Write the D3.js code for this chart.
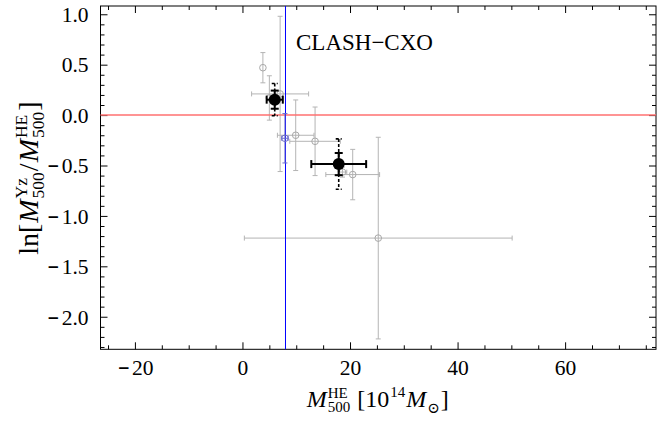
<!DOCTYPE html>
<html>
<head>
<meta charset="utf-8">
<script src="https://cdn.jsdelivr.net/npm/d3@7"></script>
<style>
body { margin: 0; background: #fff; }
text { font-family: "Liberation Serif", "DejaVu Serif", serif; fill: #000; }
</style>
</head>
<body>
<script>
// individual clusters (gray open circles)
var grayX    = [3.8, 7.0, 5.0, 9.9, 13.5, 20.5, 25.25, 18.6];
var grayY    = [0.47, 0.21, 0.17, -0.20, -0.26, -0.59, -1.22, -0.565];
var grayXErr = [0, 5.3, 0, 3.4, 4.7, 5.0, 24.9, 0.8];
var grayYErr = [0.15, 0.77, 0.22, 0.35, 0.34, 0.25, 1.0, 0.05];

// blue point
var blueX = [7.9];
var blueY = [-0.23];
var blueXErr = [0.6];
var blueYErr = [0.245];

// binned means (black filled), stat + sys errors
var blackX    = [6.0, 17.9];
var blackY    = [0.153, -0.486];
var blackXErr = [1.5, 5.1];
var blackYErr = [0.09, 0.11];
var blackYSys = [0.16, 0.25];

var xTicks = [-20, 0, 20, 40, 60];
var yTicks = [1.0, 0.5, 0.0, -0.5, -1.0, -1.5, -2.0];
var pivotX = 8;
var refY = 0;

var w = 670, h = 423;
var pL = 100.5, pR = 656, pT = 6, pB = 349.3;

var x = d3.scaleLinear().domain([-26.4, 76.9]).range([pL, pR]);
var y = d3.scaleLinear().domain([-2.323, 1.082]).range([pB, pT]);

var svg = d3.select("body").append("svg")
            .attr("width", w)
            .attr("height", h);

var xMinor = d3.range(-25, 77, 5).filter(function(d) { return d % 20 !== 0; });
var yMinor = d3.range(-23, 11, 1).map(function(d) { return d / 10; })
               .filter(function(d) { return Math.abs(Math.round(d * 10) % 5) !== 0; });

function addAxis(axisFn, scale, pos, major, minor, labels) {
    var g = svg.append("g").attr("transform", pos);
    g.call(axisFn(scale).tickValues(minor).tickSize(-4).tickSizeOuter(0).tickFormat(""));
    var g2 = svg.append("g").attr("transform", pos);
    var a = axisFn(scale).tickValues(major).tickSize(-7).tickSizeOuter(0).tickPadding(9);
    if (labels) a.tickFormat(labels); else a.tickFormat("");
    g2.call(a);
    [g, g2].forEach(function(s) {
        s.select(".domain").remove();
        s.selectAll("line").attr("stroke", "#000").attr("stroke-width", 1);
        s.selectAll("text").attr("font-size", 21.5).attr("font-family", "Liberation Serif");
    });
    return g2;
}

// thick minus as its own tspan, like the original's tick labels
function boldMinus(sel) {
    sel.selectAll("text").each(function(d) {
        if (d >= 0) return;
        var t = d3.select(this), s = t.text().replace("\u2212", "");
        t.text("");
        t.append("tspan")
         .attr("font-family", "DejaVu Sans")
         .attr("font-weight", "bold")
         .attr("font-size", 15)
         .attr("baseline-shift", "2px")
         .text("\u2212");
        t.append("tspan").attr("dx", 2).text(s);
    });
}

var bx = addAxis(d3.axisBottom, x, "translate(0," + pB + ")", xTicks, xMinor, d3.format("d"));
bx.selectAll("text").attr("dy", "0.8em");
boldMinus(bx);
addAxis(d3.axisTop, x, "translate(0," + pT + ")", xTicks, xMinor, null);
var ly = addAxis(d3.axisLeft, y, "translate(" + pL + ",0)", yTicks, yMinor, d3.format(".1f"));
ly.selectAll("text").attr("x", -12).attr("dy", "0.34em");
boldMinus(ly);
addAxis(d3.axisRight, y, "translate(" + pR + ",0)", yTicks, yMinor, null);

svg.append("rect")
   .attr("x", pL).attr("y", pT)
   .attr("width", pR - pL).attr("height", pB - pT)
   .attr("fill", "none").attr("stroke", "#000").attr("stroke-width", 1);

// error bars helper
function errBars(xs, ys, xe, ye, color, sw, cap, dash) {
    var g = svg.append("g").attr("stroke", color).attr("stroke-width", sw).attr("fill", "none");
    if (dash) g.attr("stroke-dasharray", dash);
    xs.forEach(function(d, i) {
        var cx = x(d), cy = y(ys[i]);
        if (ye && ye[i] > 0) {
            var y1 = y(ys[i] + ye[i]), y2 = y(ys[i] - ye[i]);
            g.append("line").attr("x1", cx).attr("x2", cx).attr("y1", y1).attr("y2", y2);
            g.append("line").attr("x1", cx - cap).attr("x2", cx + cap).attr("y1", y1).attr("y2", y1);
            g.append("line").attr("x1", cx - cap).attr("x2", cx + cap).attr("y1", y2).attr("y2", y2);
        }
        if (xe && xe[i] > 0) {
            var x1 = x(d - xe[i]), x2 = x(d + xe[i]);
            g.append("line").attr("x1", x1).attr("x2", x2).attr("y1", cy).attr("y2", cy);
            g.append("line").attr("x1", x1).attr("x2", x1).attr("y1", cy - cap).attr("y2", cy + cap);
            g.append("line").attr("x1", x2).attr("x2", x2).attr("y1", cy - cap).attr("y2", cy + cap);
        }
    });
}

errBars(grayX, grayY, grayXErr, grayYErr, "#b4b4b4", 1, 2.5);
svg.append("g").selectAll("circle")
   .data(grayX)
   .enter()
   .append("circle")
   .attr("cx", function(d) { return x(d); })
   .attr("cy", function(d, i) { return y(grayY[i]); })
   .attr("r", 3.3)
   .attr("fill", "none")
   .attr("stroke", "#a8a8a8")
   .attr("stroke-width", 1);

// reference lines
svg.append("line")
   .attr("x1", pL).attr("x2", pR)
   .attr("y1", y(refY)).attr("y2", y(refY))
   .attr("stroke", "#ff7070").attr("stroke-width", 1.5);
svg.append("line")
   .attr("x1", x(pivotX)).attr("x2", x(pivotX))
   .attr("y1", pT).attr("y2", pB)
   .attr("stroke", "#0000ff").attr("stroke-width", 1);

errBars(blueX, blueY, blueXErr, blueYErr, "#6a6ad0", 1, 2.5);
svg.append("g").selectAll("circle")
   .data(blueX)
   .enter()
   .append("circle")
   .attr("cx", function(d) { return x(d); })
   .attr("cy", function(d, i) { return y(blueY[i]); })
   .attr("r", 3.3)
   .attr("fill", "none")
   .attr("stroke", "#7070c8");

errBars(blackX, blackY, null, blackYSys, "#000", 1.6, 3, "3,2");
errBars(blackX, blackY, blackXErr, blackYErr, "#000", 2, 4);
svg.append("g").selectAll("circle")
   .data(blackX)
   .enter()
   .append("circle")
   .attr("cx", function(d) { return x(d); })
   .attr("cy", function(d, i) { return y(blackY[i]); })
   .attr("r", 6)
   .attr("fill", "#000");

svg.append("text")
   .attr("x", 296).attr("y", 50)
   .attr("font-size", 23)
   .text("CLASH\u2212CXO");

// TeX-ish label: groups of stacked pieces
function mathLabel(g, groups) {
    var cx = 0;
    groups.forEach(function(grp) {
        var wmax = 0;
        grp.forEach(function(p) {
            var t = g.append("text")
                     .attr("x", cx)
                     .attr("y", p.dy || 0)
                     .attr("font-size", p.size)
                     .attr("font-style", p.it ? "italic" : "normal")
                     .text(p.t);
            wmax = Math.max(wmax, t.node().getComputedTextLength());
        });
        cx += wmax + 1;
    });
    g.selectAll("text").attr("x", function() { return +d3.select(this).attr("x") - cx / 2; });
}

var big = 24, small = 15;
var xl = svg.append("g").attr("transform", "translate(" + ((pL + pR) / 2) + ",407)");
mathLabel(xl, [
    [{t: "M", size: big, it: true}],
    [{t: "500", size: small, dy: 5}, {t: "HE", size: small, dy: -9}],
    [{t: "\u00a0[10", size: big}],
    [{t: "14", size: small, dy: -10}],
    [{t: "M", size: big, it: true}],
    [{t: "\u2299", size: small, dy: 6}],
    [{t: "]", size: big}]
]);

var bigY = 28, smallY = 17.5;
var yl = svg.append("g").attr("transform", "translate(38," + ((pT + pB) / 2) + ") rotate(-90)");
mathLabel(yl, [
    [{t: "ln[", size: bigY}],
    [{t: "M", size: bigY, it: true}],
    [{t: "500", size: smallY, dy: 6}, {t: "Yz", size: smallY, dy: -11}],
    [{t: "/", size: bigY}],
    [{t: "M", size: bigY, it: true}],
    [{t: "500", size: smallY, dy: 6}, {t: "HE", size: smallY, dy: -11}],
    [{t: "]", size: bigY}]
]);
</script>
</body>
</html>
